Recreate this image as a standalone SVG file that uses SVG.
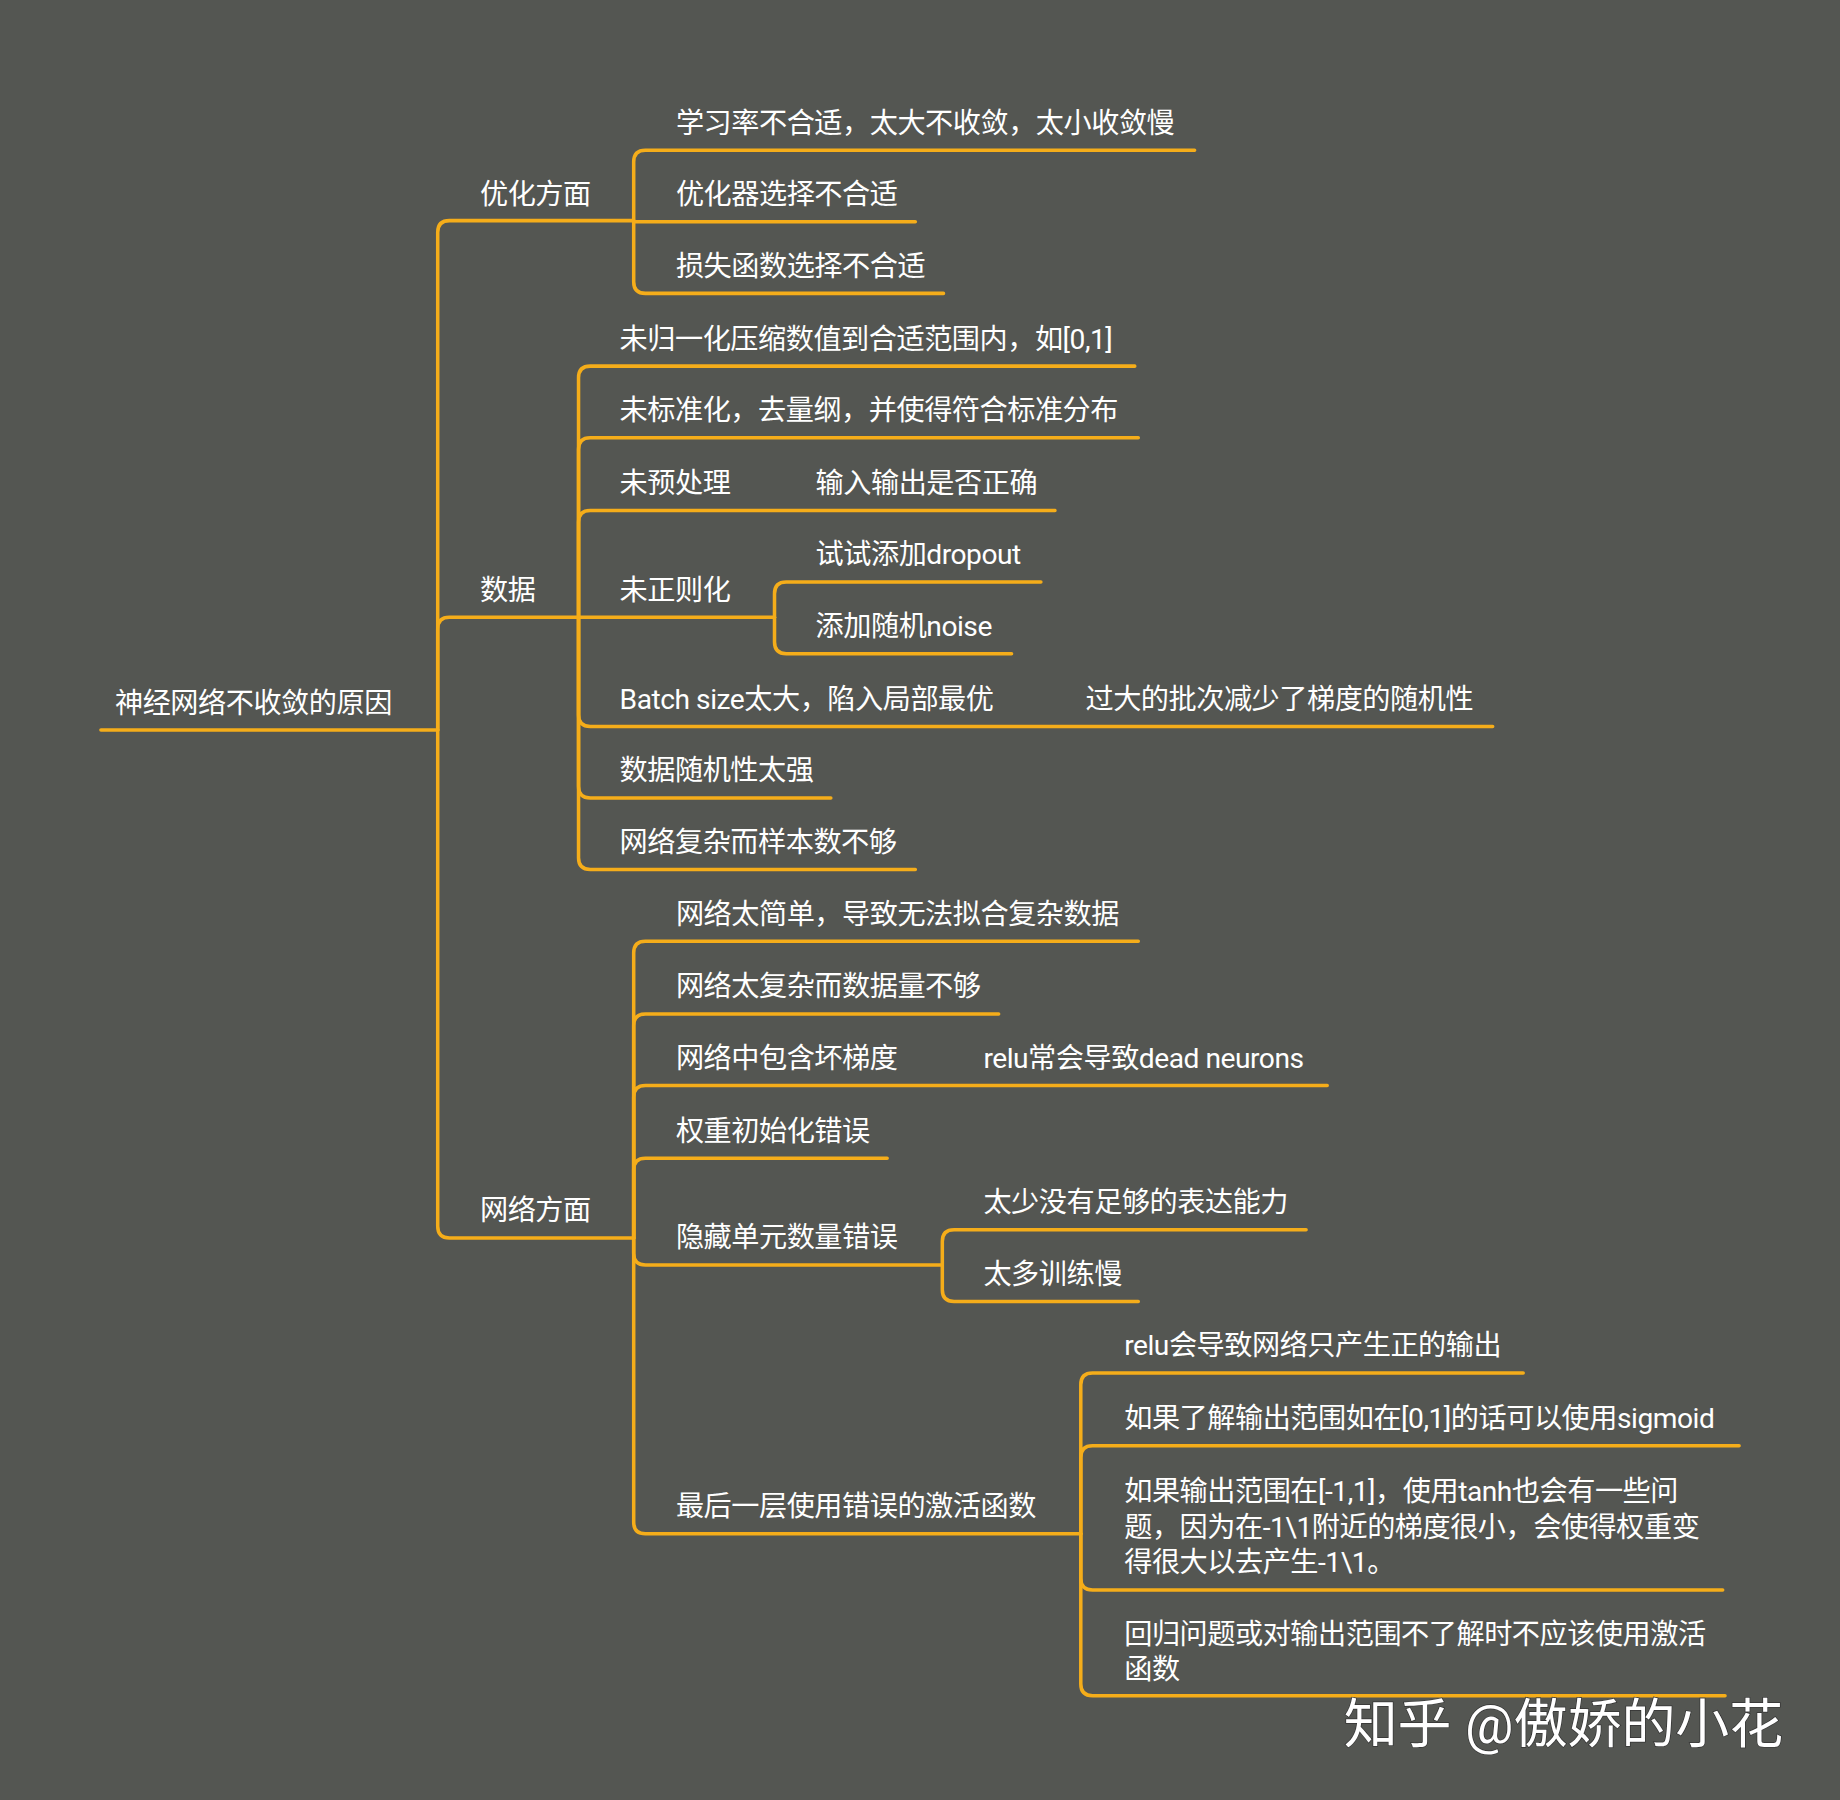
<svg xmlns="http://www.w3.org/2000/svg" width="1840" height="1800" viewBox="0 0 1840 1800">
<style>
.c{fill:none;stroke:#F5AD1A;stroke-width:3;stroke-linecap:round}
text{font-family:Roboto,"Noto Sans CJK SC",sans-serif;font-size:24px;fill:#ffffff;letter-spacing:-0.4px}
.wm{font-size:46px;fill:#ffffff;stroke:#333;stroke-width:1.2;paint-order:stroke;letter-spacing:0}
</style>
<rect width="1840" height="1800" fill="#545652"/>
<g transform="scale(1.1735)">
<g id="connectors">
<path class="c" d="M86 622 H373"/>
<path class="c" d="M373 622 V198 Q373 188 383 188 H540"/>
<path class="c" d="M373 622 V536 Q373 526 383 526 H493"/>
<path class="c" d="M373 622 V1045 Q373 1055 383 1055 H540"/>
<path class="c" d="M540 188 V138 Q540 128 550 128 H1018"/>
<path class="c" d="M540 189 H780"/>
<path class="c" d="M540 188 V240 Q540 250 550 250 H804"/>
<path class="c" d="M493 526 V322 Q493 312 503 312 H967"/>
<path class="c" d="M493 526 V383 Q493 373 503 373 H970"/>
<path class="c" d="M493 526 V445 Q493 435 503 435 H899"/>
<path class="c" d="M493 526 H660"/>
<path class="c" d="M493 526 V609 Q493 619 503 619 H1272"/>
<path class="c" d="M493 526 V670 Q493 680 503 680 H708"/>
<path class="c" d="M493 526 V731 Q493 741 503 741 H780"/>
<path class="c" d="M660 526 V506 Q660 496 670 496 H887"/>
<path class="c" d="M660 526 V547 Q660 557 670 557 H862"/>
<path class="c" d="M540 1055 V812 Q540 802 550 802 H970"/>
<path class="c" d="M540 1055 V874 Q540 864 550 864 H851"/>
<path class="c" d="M540 1055 V935 Q540 925 550 925 H1131"/>
<path class="c" d="M540 1055 V997 Q540 987 550 987 H756"/>
<path class="c" d="M540 1055 V1068 Q540 1078 550 1078 H803"/>
<path class="c" d="M540 1055 V1297 Q540 1307 550 1307 H921"/>
<path class="c" d="M803 1078 V1058 Q803 1048 813 1048 H1113"/>
<path class="c" d="M803 1078 V1099 Q803 1109 813 1109 H970"/>
<path class="c" d="M921 1307 V1180 Q921 1170 931 1170 H1298"/>
<path class="c" d="M921 1307 V1242 Q921 1232 931 1232 H1482"/>
<path class="c" d="M921 1307 V1345 Q921 1355 931 1355 H1468"/>
<path class="c" d="M921 1307 V1435 Q921 1445 931 1445 H1470"/>
</g>
<g id="root"><text x="98" y="608">神经网络不收敛的原因</text></g>
<g id="opt"><text x="409" y="174">优化方面</text></g>
<g id="o1"><text x="576" y="113">学习率不合适，太大不收敛，太小收敛慢</text></g>
<g id="o2"><text x="576" y="174">优化器选择不合适</text></g>
<g id="o3"><text x="576" y="235">损失函数选择不合适</text></g>
<g id="data"><text x="409" y="511">数据</text></g>
<g id="d1"><text x="528" y="297">未归一化压缩数值到合适范围内，如[0,1]</text></g>
<g id="d2"><text x="528" y="358">未标准化，去量纲，并使得符合标准分布</text></g>
<g id="d3"><text x="528" y="420">未预处理</text></g>
<g id="d3a"><text x="695" y="420">输入输出是否正确</text></g>
<g id="d4"><text x="528" y="511">未正则化</text></g>
<g id="d4a"><text x="695" y="481">试试添加dropout</text></g>
<g id="d4b"><text x="695" y="542">添加随机noise</text></g>
<g id="d5"><text x="528" y="604">Batch size太大，陷入局部最优</text></g>
<g id="d5a"><text x="925" y="604">过大的批次减少了梯度的随机性</text></g>
<g id="d6"><text x="528" y="665">数据随机性太强</text></g>
<g id="d7"><text x="528" y="726">网络复杂而样本数不够</text></g>
<g id="net"><text x="409" y="1040">网络方面</text></g>
<g id="n1"><text x="576" y="787">网络太简单，导致无法拟合复杂数据</text></g>
<g id="n2"><text x="576" y="849">网络太复杂而数据量不够</text></g>
<g id="n3"><text x="576" y="910">网络中包含坏梯度</text></g>
<g id="n3a"><text x="838" y="910">relu常会导致dead neurons</text></g>
<g id="n4"><text x="576" y="972">权重初始化错误</text></g>
<g id="n5"><text x="576" y="1063">隐藏单元数量错误</text></g>
<g id="n5a"><text x="838" y="1033">太少没有足够的表达能力</text></g>
<g id="n5b"><text x="838" y="1094">太多训练慢</text></g>
<g id="n6"><text x="576" y="1292">最后一层使用错误的激活函数</text></g>
<g id="n6a"><text x="958" y="1155">relu会导致网络只产生正的输出</text></g>
<g id="n6b"><text x="958" y="1217">如果了解输出范围如在[0,1]的话可以使用sigmoid</text></g>
<g id="n6c"><text x="958" y="1279">如果输出范围在[-1,1]，使用tanh也会有一些问</text><text x="958" y="1310">题，因为在-1\1附近的梯度很小，会使得权重变</text><text x="958" y="1340">得很大以去产生-1\1。</text></g>
<g id="n6d"><text x="958" y="1401">回归问题或对输出范围不了解时不应该使用激活</text><text x="958" y="1431">函数</text></g>
<text class="wm" x="1145" y="1485">知乎 @傲娇的小花</text>
</g>
</svg>
